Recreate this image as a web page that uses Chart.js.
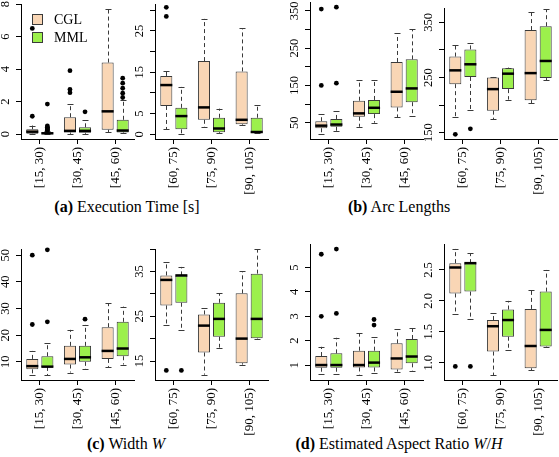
<!DOCTYPE html>
<html>
<head>
<meta charset="utf-8">
<script src="https://cdn.jsdelivr.net/npm/chart.js@4.4.0/dist/chart.umd.min.js"></script>
<style>
  body { margin: 0; background: #fff; width: 559px; height: 457px; position: relative; overflow: hidden; font-family: 'Liberation Serif', serif; }
  canvas { position: absolute; }
  .cap { position: absolute; width: 260px; text-align: center; font-size: 16px; white-space: nowrap; color: #000; }
</style>
</head>
<body>
<div class="cap" style="left:-3px;top:198px"><b>(a)</b> Execution Time [s]</div>
<div class="cap" style="left:269px;top:198px"><b>(b)</b> Arc Lengths</div>
<div class="cap" style="left:-4px;top:435px"><b>(c)</b> Width <i>W</i></div>
<div class="cap" style="left:269px;top:435px"><b>(d)</b> Estimated Aspect Ratio <i>W</i>/<i>H</i></div>
<script>
/* groups (path length bins) */
const groupsLow  = ['[15, 30)', '[30, 45)', '[45, 60)'];
const groupsHigh = ['[60, 75)', '[75, 90)', '[90, 105)'];
const methods = ['CGL', 'MML'];

/* five-number summaries [min, q1, median, q3, max], 6 bins each (low bins then high bins) */
const timeCGL = [[0, 0.02, 0.15, 0.3, 0.53], [0.02, 0.1, 0.2, 1.04, 1.86], [0.1, 0.27, 1.4, 4.4, 7.7],
                 [1.2, 6.85, 11.9, 14.1, 15.3], [1.7, 3.5, 6.5, 17.7, 27.9], [2.2, 2.4, 3.5, 15.2, 25.6]];
const timeMML = [[0, 0.02, 0.05, 0.12, 0.18], [0.02, 0.08, 0.2, 0.42, 0.85], [0.05, 0.1, 0.22, 0.88, 2.1],
                 [0, 1.2, 4.4, 6.4, 11.5], [0.2, 0.5, 1.4, 4.0, 6.2], [0.2, 0.3, 0.55, 4.0, 7.2]];
const timeCGLOut = [[1.1, 6.5], [2.55, 2.75, 3.9], [], [28.5, 30.7], [], []];
const timeMMLOut = [[0.22, 0.27, 0.32, 0.37, 0.42, 0.5, 1.85], [1.37], [2.25, 2.52, 2.82, 3.13, 3.44], [], [], []];

const arcCGL = [[19, 35, 42, 54, 73], [39, 66, 75, 109, 165], [64, 91, 133, 213, 290],
                [179, 238, 263, 288, 309], [174, 190, 229, 250, 251], [203, 209, 258, 336, 369]];
const arcMML = [[28, 39, 45, 60, 81], [50, 73, 90, 111, 165], [68, 105, 142, 220, 301],
                [191, 251, 274, 301, 312], [210, 229, 257, 267, 268], [245, 249, 280, 343, 374]];
const arcCGLOut = [[150, 355], [], [], [147], [], []];
const arcMMLOut = [[156, 360], [], [], [157], [], []];

const widthCGL = [[5, 7.2, 8.4, 11.1, 14.1], [6, 9, 11.1, 16, 22], [8.1, 11.1, 14.1, 23, 32],
                  [23, 27.4, 33.1, 34.1, 37], [11.95, 16.9, 22.9, 25.4, 26.9], [14.2, 14.5, 20, 30.1, 35]];
const widthMML = [[5, 8.1, 8.2, 12.1, 17], [7.2, 10, 11.7, 16, 23.9], [9, 12.1, 15, 25, 30.7],
                  [21.9, 28, 34.1, 34.1, 36], [18, 20.4, 24.4, 28, 30.1], [20, 20.1, 24.4, 34.5, 40]];
const widthCGLOut = [[24, 50], [], [], [12.9], [], []];
const widthMMLOut = [[25, 52], [26], [], [12.9], [], []];

const aspectCGL = [[0.62, 0.89, 1.0, 1.37, 1.75], [0.6, 0.9, 1.0, 1.59, 2.3], [0.73, 0.82, 1.27, 1.89, 2.46],
                   [1.79, 2.12, 2.54, 2.61, 2.84], [0.8, 1.18, 1.59, 1.69, 1.8], [0.88, 0.91, 1.27, 1.87, 2.17]];
const aspectMML = [[0.62, 0.89, 1.0, 1.48, 2.12], [0.69, 0.9, 1.1, 1.59, 2.16], [0.77, 1.07, 1.35, 2.07, 2.54],
                   [1.70, 2.15, 2.61, 2.61, 2.77], [1.21, 1.42, 1.69, 1.86, 2.0], [1.25, 1.26, 1.53, 2.15, 2.5]];
const aspectCGLOut = [[3.0, 5.55], [], [], [0.94], [], []];
const aspectMMLOut = [[3.12, 5.76], [2.64, 2.87], [], [0.94], [], []];

/* y ticks per sub plot, and the ones R actually labelled */
const ticksTimeLow = [0, 2, 4, 6, 8],            labTimeLow = [0, 2, 4, 6, 8];
const ticksTimeHigh = [0, 5, 10, 15, 20, 25, 30], labTimeHigh = [0, 5, 15, 25];
const ticksArcLow = [50, 100, 150, 200, 250, 300, 350], labArcLow = [50, 150, 250, 350];
const ticksArcHigh = [150, 200, 250, 300, 350],  labArcHigh = [150, 250, 350];
const ticksWidthLow = [10, 20, 30, 40, 50],       labWidthLow = [10, 20, 30, 40, 50];
const ticksWidthHigh = [15, 20, 25, 30, 35, 40],  labWidthHigh = [15, 25, 35];
const ticksAspLow = [1, 2, 3, 4, 5],              labAspLow = [1, 2, 3, 4, 5];
const ticksAspHigh = [1.0, 1.5, 2.0, 2.5],        labAspHigh = [1.0, 1.5, 2.0, 2.5];

/* colours */
const COLOR_CGL = '#f9d6b5';
const COLOR_MML = '#9cf04c';
const COLOR_EDGE = '#3a3a3a';
const SERIF = "'Liberation Serif', serif";

Chart.defaults.color = '#000';
Chart.defaults.font.family = SERIF;

/* sub plot layout: x = y-axis line, top/bottom = plot region */
const panels = [
  { s: [timeCGL, timeMML], o: [timeCGLOut, timeMMLOut], high: false, x: 21,  top: 4,   bottom: 139, min: -0.3, max: 8.0,  t: ticksTimeLow,  l: labTimeLow,  dec: 0, legend: true },
  { s: [timeCGL, timeMML], o: [timeCGLOut, timeMMLOut], high: true,  x: 155, top: 4,   bottom: 139, min: -1.14, max: 31.5, t: ticksTimeHigh, l: labTimeHigh, dec: 0 },
  { s: [arcCGL, arcMML],   o: [arcCGLOut, arcMMLOut],   high: false, x: 310, top: 2,   bottom: 139, min: 6.2,  max: 374,  t: ticksArcLow,   l: labArcLow,   dec: 0 },
  { s: [arcCGL, arcMML],   o: [arcCGLOut, arcMMLOut],   high: true,  x: 444, top: 8,   bottom: 139, min: 138.6, max: 376, t: ticksArcHigh,  l: labArcHigh,  dec: 0 },
  { s: [widthCGL, widthMML], o: [widthCGLOut, widthMMLOut], high: false, x: 21,  top: 249, bottom: 380, min: 3.2,  max: 52.3, t: ticksWidthLow,  l: labWidthLow,  dec: 0 },
  { s: [widthCGL, widthMML], o: [widthCGLOut, widthMMLOut], high: true,  x: 155, top: 249, bottom: 380, min: 10.76, max: 40.0, t: ticksWidthHigh, l: labWidthHigh, dec: 0 },
  { s: [aspectCGL, aspectMML], o: [aspectCGLOut, aspectMMLOut], high: false, x: 310, top: 244, bottom: 380, min: 0.386, max: 5.97, t: ticksAspLow,  l: labAspLow,  dec: 0 },
  { s: [aspectCGL, aspectMML], o: [aspectCGLOut, aspectMMLOut], high: true,  x: 444, top: 244, bottom: 380, min: 0.72,  max: 2.92, t: ticksAspHigh, l: labAspHigh, dec: 1 }
];

/* whiskers, medians, outliers, rotated y labels and the legend */
const boxPlugin = {
  id: 'boxExtras',
  afterDatasetsDraw(chart, args, opts) {
    const ctx = chart.ctx, ys = chart.scales.y;
    const seg = (x1, y1, x2, y2) => { ctx.beginPath(); ctx.moveTo(x1, y1); ctx.lineTo(x2, y2); ctx.stroke(); };
    chart.data.datasets.forEach((ds, d) => {
      const meta = chart.getDatasetMeta(d);
      meta.data.forEach((bar, i) => {
        const [mn, q1, md, q3, mx] = ds.stats[i];
        const x = Math.round(bar.x) + 0.5, w = bar.width;
        const py = v => ys.getPixelForValue(v);
        ctx.save();
        ctx.strokeStyle = COLOR_EDGE;
        ctx.lineWidth = 1;
        ctx.setLineDash([4, 3]);
        if (mx > q3) seg(x, py(q3), x, py(mx));
        if (mn < q1) seg(x, py(q1), x, py(mn));
        ctx.setLineDash([]);
        seg(x - w / 4, Math.round(py(mx)) + 0.5, x + w / 4, Math.round(py(mx)) + 0.5);
        seg(x - w / 4, Math.round(py(mn)) + 0.5, x + w / 4, Math.round(py(mn)) + 0.5);
        ctx.strokeStyle = '#000';
        ctx.lineWidth = 2.5;
        seg(bar.x - w / 2, py(md), bar.x + w / 2, py(md));
        ctx.fillStyle = '#000';
        ds.outliers[i].forEach(v => {
          ctx.beginPath();
          ctx.arc(bar.x, py(v), 2.4, 0, Math.PI * 2);
          ctx.fill();
        });
        ctx.restore();
      });
    });
  },
  afterDraw(chart, args, opts) {
    const ctx = chart.ctx, ys = chart.scales.y, area = chart.chartArea;
    ctx.save();
    ctx.fillStyle = '#000';
    ctx.font = '12.5px ' + SERIF;
    ctx.textAlign = 'center';
    ctx.textBaseline = 'alphabetic';
    opts.labels.forEach(v => {
      ctx.save();
      ctx.translate(area.left - 12, ys.getPixelForValue(v));
      ctx.rotate(-Math.PI / 2);
      ctx.fillText(v.toFixed(opts.dec), 0, 0);
      ctx.restore();
    });
    if (opts.legend) {
      ctx.font = '14px ' + SERIF;
      ctx.textAlign = 'left';
      ctx.textBaseline = 'middle';
      chart.data.datasets.forEach((ds, d) => {
        const bx = area.left + 11.5, by = area.top + 10.5 + d * 18;
        ctx.fillStyle = ds.backgroundColor;
        ctx.fillRect(bx, by, 10, 10);
        ctx.strokeStyle = COLOR_EDGE;
        ctx.lineWidth = 1;
        ctx.strokeRect(bx, by, 10, 10);
        ctx.fillStyle = '#000';
        ctx.fillText(ds.label, area.left + 33, by + 5.5);
      });
    }
    ctx.restore();
  }
};

function makeChart(p) {
  const W = 30 + 113 + 6, H = (p.bottom - p.top) + 8 + 62;
  const canvas = document.createElement('canvas');
  canvas.width = W; canvas.height = H;
  canvas.style.left = (p.x - 30) + 'px';
  canvas.style.top = (p.top - 8) + 'px';
  canvas.style.width = W + 'px';
  canvas.style.height = H + 'px';
  document.body.appendChild(canvas);

  const from = p.high ? 3 : 0;
  const datasets = methods.map((m, d) => {
    const stats = p.s[d].slice(from, from + 3);
    return {
      label: m,
      data: stats.map(s => [s[1], s[3]]),
      stats: stats,
      outliers: p.o[d].slice(from, from + 3),
      backgroundColor: d ? COLOR_MML : COLOR_CGL,
      borderColor: COLOR_EDGE,
      borderWidth: 1,
      borderSkipped: false,
      barPercentage: 0.8,
      categoryPercentage: 0.8
    };
  });

  return new Chart(canvas, {
    type: 'bar',
    data: { labels: p.high ? groupsHigh : groupsLow, datasets },
    options: {
      responsive: false,
      animation: false,
      devicePixelRatio: 1,
      layout: { padding: { top: 8, right: 6, left: 0, bottom: 0 } },
      plugins: {
        legend: { display: false },
        tooltip: { enabled: false },
        boxExtras: { labels: p.l, dec: p.dec, legend: !!p.legend }
      },
      scales: {
        x: {
          type: 'category',
          offset: true,
          grid: { offset: false, drawOnChartArea: false, tickLength: 5, color: '#000' },
          border: { color: '#000', width: 1 },
          ticks: { minRotation: 90, maxRotation: 90, autoSkip: false, padding: 3, color: '#000', font: { family: SERIF, size: 13 } },
          afterFit(s) { s.height = 62; }
        },
        y: {
          type: 'linear',
          min: p.min,
          max: p.max,
          afterBuildTicks(s) { s.ticks = p.t.map(v => ({ value: v })); },
          grid: { drawOnChartArea: false, tickLength: 5, color: '#000' },
          border: { color: '#000', width: 1 },
          ticks: { display: false },
          afterFit(s) { s.width = 30; }
        }
      }
    },
    plugins: [boxPlugin]
  });
}

panels.forEach(makeChart);
</script>
</body>
</html>
